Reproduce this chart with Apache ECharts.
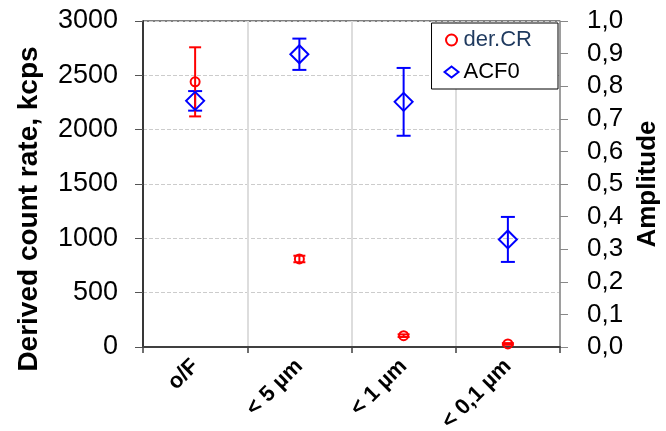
<!DOCTYPE html>
<html>
<head>
<meta charset="UTF-8">
<title></title>
<script src="https://cdn.jsdelivr.net/npm/echarts@6/dist/echarts.min.js"></script>
</head>
<body style="margin:0;background:#fff;">
<div id="chart" style="width:666px;height:431px;"></div>
<script>
// categories and values
var categories = ['o/F', '< 5 µm', '< 1 µm', '< 0,1 µm'];
var crVals = [2440, 810, 104, 28];      // der.CR, kcps (left axis)
var crErr = [318, 30, 12, 8];
var acfVals = [0.755, 0.898, 0.752, 0.33]; // ACF0 amplitude (right axis)
var acfErr = [0.03, 0.048, 0.104, 0.069];

function errData(vals, errs) {
  return vals.map(function (v, i) { return [i, v - errs[i], v + errs[i]]; });
}

function errRender(color, cap) {
  return function (params, api) {
    var i = api.value(0);
    var lo = api.coord([i, api.value(1)]);
    var hi = api.coord([i, api.value(2)]);
    var st = { stroke: color, lineWidth: 2 };
    return {
      type: 'group',
      children: [
        { type: 'line', shape: { x1: lo[0], y1: lo[1], x2: hi[0], y2: hi[1] }, style: st },
        { type: 'line', shape: { x1: lo[0] - cap, y1: lo[1], x2: lo[0] + cap, y2: lo[1] }, style: st },
        { type: 'line', shape: { x1: hi[0] - cap, y1: hi[1], x2: hi[0] + cap, y2: hi[1] }, style: st }
      ]
    };
  };
}

var font = 'Liberation Sans, Arial, sans-serif';
var clear = 'rgba(0,0,0,0)';

var option = {
  animation: false,
  grid: { left: 143, right: 106, top: 21, bottom: 84, containLabel: false, outerBoundsMode: 'none',
    show: true, borderColor: '#000', borderWidth: 1 },
  legend: {
    orient: 'vertical',
    right: 108, top: 23,
    padding: [6, 26, 6, 12],
    itemGap: 10,
    itemWidth: 14, itemHeight: 11,
    backgroundColor: '#fff',
    borderColor: '#000', borderWidth: 1,
    textStyle: { fontFamily: font, fontSize: 22 },
    formatter: function (n) { return n === 'der.CR' ? '{a|' + n + '}' : '{b|' + n + '}'; },
    data: [
      { name: 'der.CR', icon: 'circle', itemStyle: { color: '#fff', borderColor: '#ff0000', borderWidth: 2 },
        textStyle: { rich: { a: { color: '#1f3a5f', fontSize: 22, fontFamily: font } } } },
      { name: 'ACF0', icon: 'diamond', itemStyle: { color: '#fff', borderColor: '#0000ff', borderWidth: 2 },
        textStyle: { rich: { b: { color: '#000', fontSize: 22, fontFamily: font } } } }
    ]
  },
  xAxis: {
    type: 'category',
    data: categories,
    boundaryGap: true,
    axisLine: { lineStyle: { color: '#404040', width: 2 } },
    axisTick: { show: true, length: 6, lineStyle: { color: '#404040', width: 1.5 } },
    splitLine: { show: true, lineStyle: { color: '#dddddd', width: 2 } },
    axisLabel: { rotate: 45, margin: 16, color: '#000', fontFamily: font, fontWeight: 'bold', fontSize: 22 }
  },
  yAxis: [
    {
      type: 'value', min: 0, max: 3000, interval: 500,
      name: 'Derived count rate, kcps',
      nameLocation: 'middle', nameGap: 100,
      nameTextStyle: { fontFamily: font, fontWeight: 'bold', fontSize: 28, color: '#000', padding: [0, 50, 0, 0] },
      axisLine: { show: true, lineStyle: { color: '#000', width: 1.5 } },
      axisTick: { show: true, length: 8, lineStyle: { color: '#555' } },
      splitLine: { show: true, lineStyle: { color: '#cccccc', type: 'dashed' } },
      axisLabel: { margin: 25, color: '#000', fontFamily: font, fontSize: 27,
        formatter: function (v) { return String(v); } }
    },
    {
      type: 'value', min: 0, max: 1, interval: 0.1,
      name: 'Amplitude',
      nameLocation: 'middle', nameGap: 75, nameRotate: 90,
      nameTextStyle: { fontFamily: font, fontWeight: 'bold', fontSize: 26, color: '#000' },
      axisLine: { show: true, lineStyle: { color: '#888', width: 1.5 } },
      axisTick: { show: true, length: 8, lineStyle: { color: '#888' } },
      splitLine: { show: false },
      axisLabel: { margin: 27, color: '#000', fontFamily: font, fontSize: 26,
        formatter: function (v) { return v.toFixed(1).replace('.', ','); } }
    }
  ],
  series: [
    { name: 'ACF0 err', type: 'custom', yAxisIndex: 1, renderItem: errRender('#0000ff', 7),
      encode: { x: 0, y: [1, 2] }, data: errData(acfVals, acfErr), z: 2 },
    { name: 'der.CR err', type: 'custom', yAxisIndex: 0, renderItem: errRender('#ff0000', 6),
      encode: { x: 0, y: [1, 2] }, data: errData(crVals, crErr), z: 3 },
    { name: 'der.CR', type: 'scatter', yAxisIndex: 0, symbol: 'circle', symbolSize: 9,
      itemStyle: { color: clear, borderColor: '#ff0000', borderWidth: 2, opacity: 1 },
      data: crVals.map(function (v, i) { return [i, v]; }), z: 4 },
    { name: 'ACF0', type: 'scatter', yAxisIndex: 1, symbol: 'diamond', symbolSize: 18,
      itemStyle: { color: clear, borderColor: '#0000ff', borderWidth: 2, opacity: 1 },
      data: acfVals.map(function (v, i) { return [i, v]; }), z: 5 }
  ]
};

var myChart = echarts.init(document.getElementById('chart'));
myChart.setOption(option);
</script>
</body>
</html>
